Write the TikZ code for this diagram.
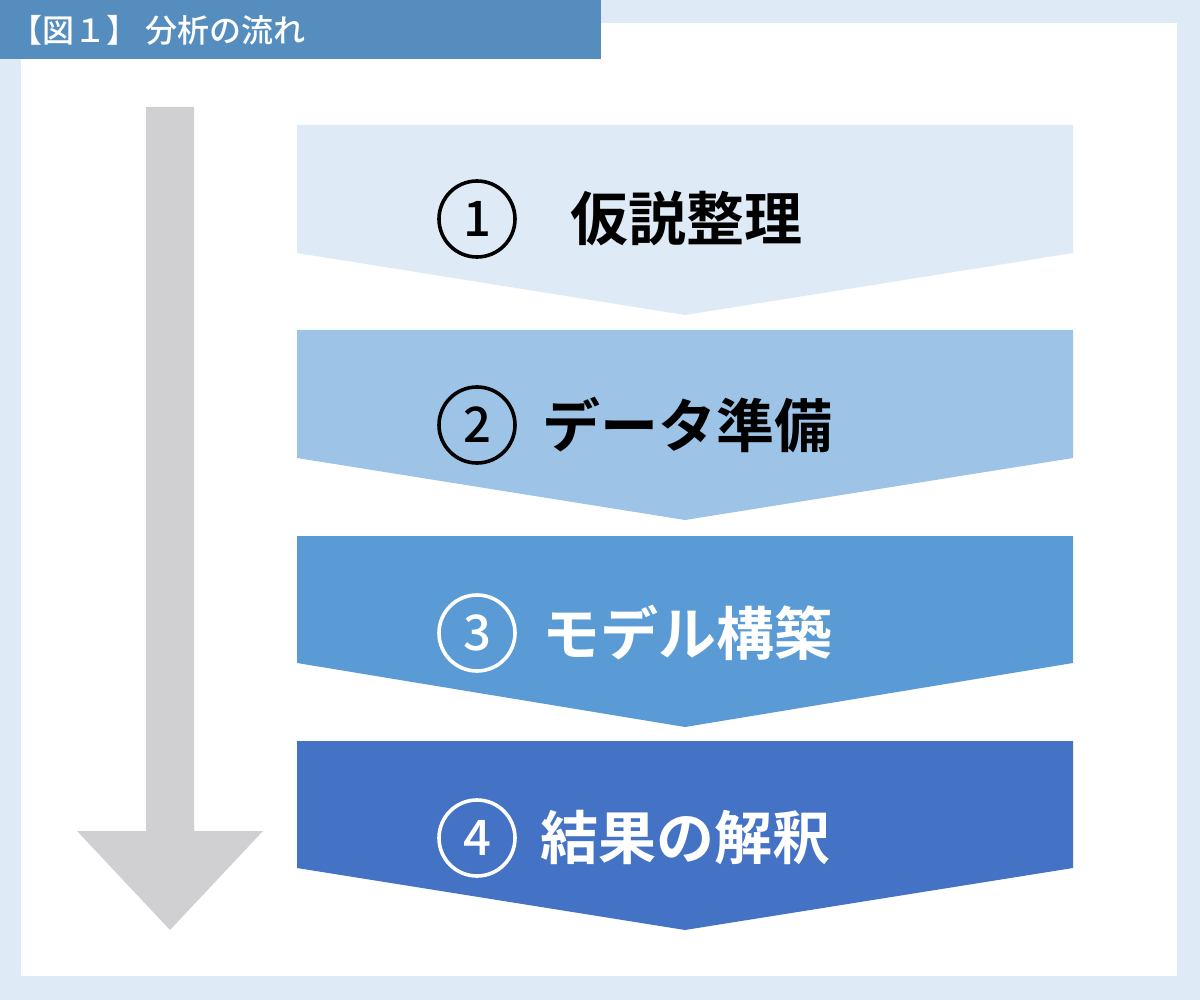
\documentclass[tikz,border=0pt]{standalone}
\usepackage{fontspec}
\newfontfamily\jpb{Noto Sans CJK JP Bold}
\newfontfamily\jpm{Noto Sans CJK JP Medium}
\definecolor{bgblue}{HTML}{DEEAF6}
\definecolor{barblue}{HTML}{558DBE}
\definecolor{arrowgray}{HTML}{D0CFD1}
\definecolor{cA}{HTML}{DEEAF6}
\definecolor{cB}{HTML}{9DC3E6}
\definecolor{cC}{HTML}{5B9BD5}
\definecolor{cD}{HTML}{4472C4}
\begin{document}
\begin{tikzpicture}[x=1pt,y=-1pt,
  chev/.style={fill=#1, draw=none},
  num/.style={circle, draw=#1, line width=3.6pt, minimum size=76pt, inner sep=0pt, text=#1,
    font=\jpm\fontsize{49}{49}\selectfont},
  lbl/.style={anchor=west, text=#1, inner sep=0pt,
    font=\jpb\fontsize{58}{58}\selectfont}]
\fill[bgblue] (0,0) rectangle (1200,1000);
\useasboundingbox (0,0) rectangle (1200,1000);
\fill[white] (21,23) rectangle (1177,976);
\fill[barblue] (0,0) rectangle (601,59);
\node[anchor=west, text=white, inner sep=0pt, font=\jpm\fontsize{32}{32}\selectfont] (title) at (10,30) {【図１】 分析の流れ};
% gray flow arrow
\fill[arrowgray] (146,107) -- (194,107) -- (194,831) -- (263,831) -- (170,930) -- (77,831) -- (146,831) -- cycle;
% chevrons
\fill[chev=cA] (297,125) -- (1073,125) -- (1073,253) -- (685,315) -- (297,253) -- cycle;
\fill[chev=cB] (297,330) -- (1073,330) -- (1073,458) -- (685,520) -- (297,458) -- cycle;
\fill[chev=cC] (297,536) -- (1073,536) -- (1073,663) -- (685,727) -- (297,663) -- cycle;
\fill[chev=cD] (297,741) -- (1073,741) -- (1073,868) -- (685,930) -- (297,868) -- cycle;
% numbers and labels
\node[num=black] (n1) at (477,219) {1};
\node[lbl=black] (l1) at (570,219) {仮説整理};
\node[num=black] (n2) at (477,425) {2};
\node[lbl=black] (l2) at (542,425) {データ準備};
\node[num=white] (n3) at (477,633) {3};
\node[lbl=white] (l3) at (542,633) {モデル構築};
\node[num=white] (n4) at (477,838) {4};
\node[lbl=white] (l4) at (540,838) {結果の解釈};
\end{tikzpicture}
\end{document}
